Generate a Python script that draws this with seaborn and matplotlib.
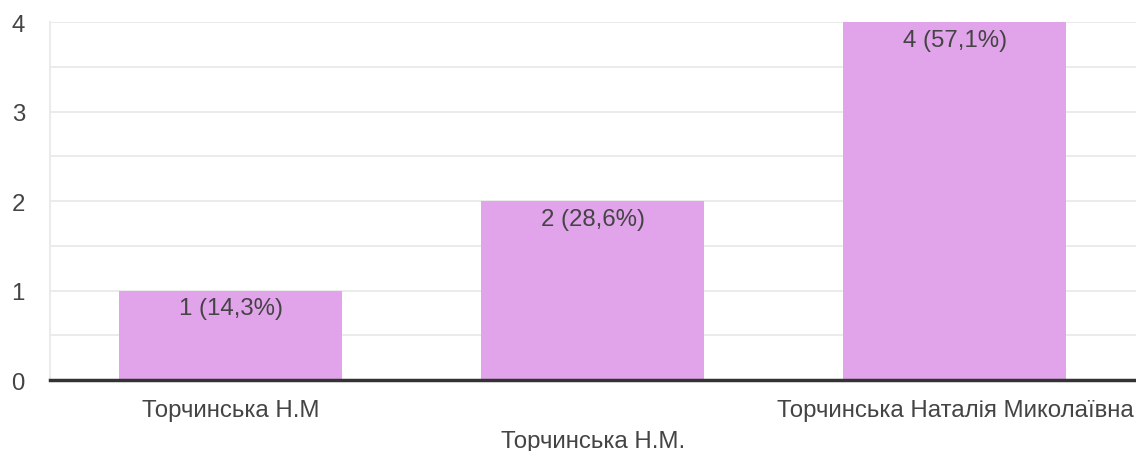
import pandas as pd
import matplotlib.pyplot as plt
import seaborn as sns

names = ['Торчинська Н.М', 'Торчинська Н.М.', 'Торчинська Наталія Миколаївна']
counts = [1, 2, 4]
labels = ['1 (14,3%)', '2 (28,6%)', '4 (57,1%)']

df = pd.DataFrame({'name': names, 'count': counts})

sns.set_style('white')
plt.rcParams['font.family'] = ['Liberation Sans', 'DejaVu Sans']

fig = plt.figure(figsize=(11.36, 4.52), dpi=100)
ax = fig.add_axes([0.044, 0.157, 0.956, 0.792])

sns.barplot(data=df, x='name', y='count', color='#e1a4ea', saturation=1,
            width=0.616, linewidth=0, ax=ax, zorder=2)

ax.set_ylim(0, 4)
ax.set_xlim(-0.5, 2.5)
ax.set_yticks([0, 1, 2, 3, 4])
ax.set_yticks([0.5, 1.5, 2.5, 3.5], minor=True)
ax.grid(True, which='both', axis='y', color='#ebebeb', linewidth=1.4, zorder=0)
ax.set_axisbelow(True)

for s in ['top', 'right']:
    ax.spines[s].set_visible(False)
ax.spines['left'].set_color('#ebebeb')
ax.spines['left'].set_linewidth(1.5)
ax.spines['bottom'].set_color('#333333')
ax.spines['bottom'].set_linewidth(2.5)
ax.spines['bottom'].set_zorder(3)

ax.tick_params(axis='both', length=0, labelsize=17.3, colors='#444444')
ax.tick_params(axis='y', pad=18)
ax.tick_params(axis='x', pad=14)
ax.xaxis.get_major_ticks()[1].set_pad(36)
for lbl in ax.get_yticklabels():
    lbl.set_horizontalalignment('right')

ax.set_xlabel('')
ax.set_ylabel('')

for i, (c, t) in enumerate(zip(counts, labels)):
    ax.annotate(t, (i, c), xytext=(0, -5), textcoords='offset points',
                ha='center', va='top', fontsize=17.3, color='#444444', zorder=4)

fig.savefig('out.png', dpi=100)
